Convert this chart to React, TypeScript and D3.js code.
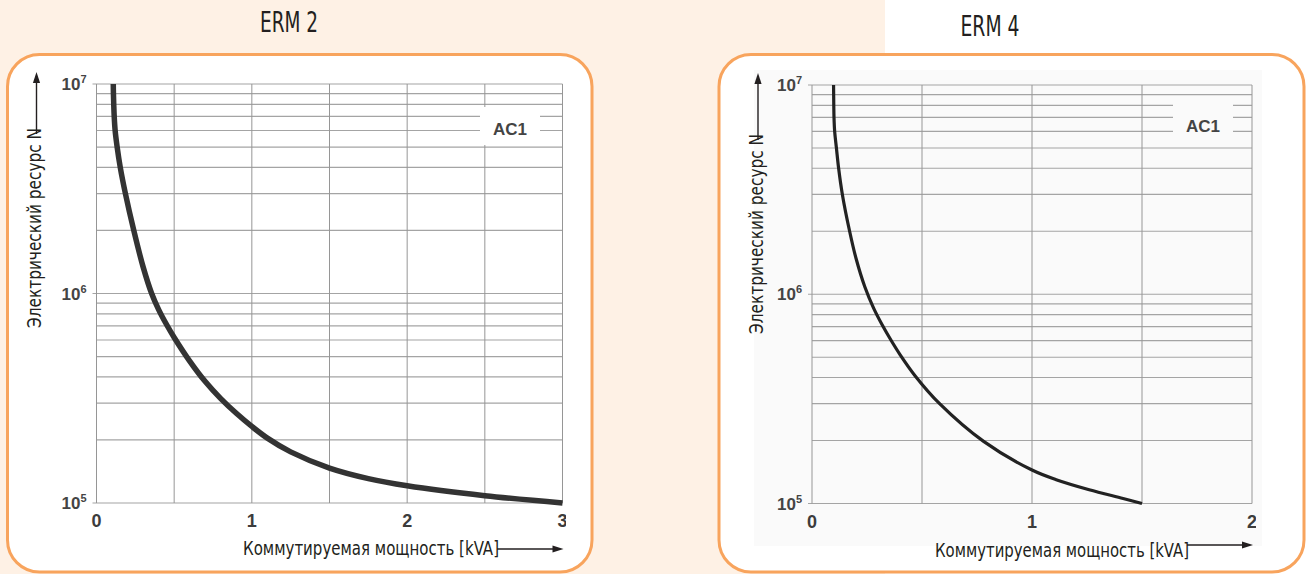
import React from 'react';
import * as d3 from 'd3';

// ---- data ----
const ERM2_POWER_KVA = [0.108, 0.109, 0.111, 0.114, 0.12, 0.133, 0.153, 0.186, 0.24, 0.3, 0.355, 0.4, 0.45, 0.5, 0.6, 0.7, 0.8, 0.9, 1.0, 1.1, 1.25, 1.5, 1.75, 2.0, 2.5, 3.0];
const ERM2_CYCLES = [1e7, 9e6, 8e6, 7e6, 6e6, 5e6, 4e6, 3e6, 2e6, 1.34e6, 1e6, 8.38e5, 7.13e5, 6.17e5, 4.76e5, 3.8e5, 3.15e5, 2.68e5, 2.32e5, 2.04e5, 1.754e5, 1.468e5, 1.308e5, 1.209e5, 1.084e5, 1.0e5];

const ERM4_POWER_KVA = [0.098, 0.099, 0.1, 0.103, 0.111, 0.121, 0.138, 0.171, 0.2, 0.24, 0.28, 0.32, 0.36, 0.4, 0.47, 0.58, 0.78, 1.0, 1.11, 1.26, 1.414, 1.5];
const ERM4_CYCLES = [1e7, 8e6, 7e6, 6e6, 5e6, 4e6, 3e6, 2e6, 1.486e6, 1.086e6, 8.59e5, 7.11e5, 6.01e5, 5.15e5, 4.06e5, 3.0e5, 1.98e5, 1.445e5, 1.3e5, 1.164e5, 1.057e5, 1e5];

const ERM2_X_TICKS = [0, 1, 2, 3];
const ERM4_X_TICKS = [0, 1, 2];
const Y_DECADES = [1e5, 1e6, 1e7];
const Y_EXPONENTS = ['5', '6', '7'];
const TITLES = ['ERM 2', 'ERM 4'];
const Y_LABEL = 'Электрический ресурс N';
const X_LABEL = 'Коммутируемая мощность [kVA]';
const CURVE_LABEL = 'AC1';

const NARROW = "'Liberation Sans Narrow', 'DejaVu Sans Condensed', 'Roboto Condensed', sans-serif";
const ARIAL = "'Liberation Sans', Arial, sans-serif";

type ChartProps = {
  id: string;
  power: number[];
  cycles: number[];
  xTicks: number[];
  xMax: number;
  px0: number; px1: number; pyBottom: number; pyTop: number;
  lineWidth: number;
  lineColor: string;
  bg: string;
  acX: number; acY: number;
  yLabelX: number; yLabelBottom: number;
  yArrowX: number;
  xLabelX: number; xLabelY: number; xLabelW: number;
  xArrowY: number;
  clipRight: number;
};

function Chart(p: ChartProps) {
  const x = d3.scaleLinear().domain([0, p.xMax]).range([p.px0, p.px1]);
  const y = d3.scaleLog().domain([1e5, 1e7]).range([p.pyBottom, p.pyTop]);
  const hTicks = y.ticks();
  const vTicks = x.ticks(p.xMax * 2);
  const pts: [number, number][] = p.power.map((v, i) => [x(v), y(p.cycles[i])]);
  const line = d3.line().curve(d3.curveCatmullRom.alpha(0.5))(pts) || '';
  const gridTop = y(1e7);
  const gridBot = y(1e5);
  const xTextEnd = p.xLabelX + p.xLabelW;
  const yLabelLen = 200;
  return (
    <g>
      <defs>
        <clipPath id={p.id + '-clip'}>
          <rect x={0} y={0} width={p.clipRight} height={574} />
        </clipPath>
      </defs>
      {/* horizontal grid */}
      {hTicks.map((t, i) => {
        const decade = Y_DECADES.some((d) => Math.abs(d - t) < 1);
        return (
          <line key={'h' + i} x1={p.px0 - (decade ? 4 : 0)} x2={p.px1} y1={y(t)} y2={y(t)}
            stroke="#a4a4a4" strokeWidth={1.2} />
        );
      })}
      {/* vertical grid */}
      {vTicks.map((t, i) => (
        <line key={'v' + i} x1={x(t)} x2={x(t)} y1={gridTop} y2={gridBot} stroke="#969696" strokeWidth={1} />
      ))}
      {/* AC1 label box */}
      <rect x={p.acX - 30} y={p.acY - 22} width={60} height={38} fill={p.bg} />
      <text x={p.acX} y={p.acY} textAnchor="middle" dy="0.35em" fontFamily={ARIAL} fontWeight="bold"
        fontSize={17} fill="#444">{CURVE_LABEL}</text>
      {/* curve */}
      <path d={line} fill="none" stroke={p.lineColor} strokeWidth={p.lineWidth} strokeLinejoin="round" />
      {/* y tick labels */}
      {Y_DECADES.map((d, i) => (
        <text key={'yl' + i} x={p.px0 - 10} y={y(d)} dy="0.36em" textAnchor="end" fontFamily={ARIAL}
          fontWeight="bold" fontSize={17} fill="#444">
          10<tspan dy="-7" fontSize={11}>{Y_EXPONENTS[i]}</tspan>
        </text>
      ))}
      {/* x tick labels */}
      <g clipPath={`url(#${p.id}-clip)`}>
        {p.xTicks.map((t, i) => (
          <text key={'xl' + i} x={x(t)} y={gridBot + 24} textAnchor="middle" fontFamily={ARIAL}
            fontWeight="bold" fontSize={18} fill="#3c3c3c">{t}</text>
        ))}
      </g>
      {/* y axis label + arrow */}
      <text transform={`translate(${p.yLabelX},${p.yLabelBottom}) rotate(-90)`} fontFamily={NARROW}
        fontSize={19} fill="#231f20" textLength={yLabelLen} lengthAdjust="spacingAndGlyphs">{Y_LABEL}</text>
      <line x1={p.yArrowX} x2={p.yArrowX} y1={p.yLabelBottom - yLabelLen + 6} y2={gridTop - 8} stroke="#231f20" strokeWidth={1.4} />
      <path d={`M${p.yArrowX},${gridTop - 12} l-3.6,11 l7.2,0 Z`} fill="#231f20" />
      {/* x axis label + arrow */}
      <text x={p.xLabelX} y={p.xLabelY} fontFamily={NARROW} fontSize={19} fill="#231f20"
        textLength={p.xLabelW} lengthAdjust="spacingAndGlyphs">{X_LABEL}</text>
      <line x1={xTextEnd - 2} x2={p.px1 - 4} y1={p.xArrowY} y2={p.xArrowY} stroke="#231f20" strokeWidth={1.4} />
      <path d={`M${p.px1 + 1},${p.xArrowY} l-11,-3.6 l0,7.2 Z`} fill="#231f20" />
    </g>
  );
}

export default function App() {
  const orange = '#f8a45d';
  const peach = '#fef1e5';
  return (
    <svg width={1310} height={574} viewBox="0 0 1310 574"
      style={{ position: 'absolute', left: 0, top: 0, display: 'block' }}>
      <rect x={0} y={0} width={1310} height={574} fill="#ffffff" />
      <rect x={0} y={0} width={885} height={574} fill={peach} />
      {/* titles */}
      <text x={289} y={32} textAnchor="middle" fontFamily={NARROW} fontSize={28} fill="#231f20"
        textLength={58} lengthAdjust="spacingAndGlyphs">{TITLES[0]}</text>
      <text x={990} y={36} textAnchor="middle" fontFamily={NARROW} fontSize={28} fill="#231f20"
        textLength={59} lengthAdjust="spacingAndGlyphs">{TITLES[1]}</text>
      {/* panels */}
      <rect x={7.5} y={54.5} width={584.5} height={517.5} rx={32} ry={32} fill="#ffffff" stroke={orange} strokeWidth={3} />
      <rect x={719} y={54.5} width={585} height={517.5} rx={32} ry={32} fill="#ffffff" stroke={orange} strokeWidth={3} />
      <rect x={754} y={70} width={508} height={476} fill="#fafafa" />
      <Chart id="erm2" power={ERM2_POWER_KVA} cycles={ERM2_CYCLES} xTicks={ERM2_X_TICKS} xMax={3}
        px0={96.5} px1={562.5} pyBottom={503} pyTop={84} lineWidth={5.5} lineColor="#333333" bg="#ffffff"
        acX={510} acY={129} yLabelX={41} yLabelBottom={328} yArrowX={36.5}
        xLabelX={243} xLabelY={555} xLabelW={256} xArrowY={549} clipRight={566} />
      <Chart id="erm4" power={ERM4_POWER_KVA} cycles={ERM4_CYCLES} xTicks={ERM4_X_TICKS} xMax={2}
        px0={812} px1={1252} pyBottom={503.5} pyTop={85} lineWidth={3.2} lineColor="#222222" bg="#fafafa"
        acX={1203} acY={126} yLabelX={763} yLabelBottom={334} yArrowX={758}
        xLabelX={935} xLabelY={557} xLabelW={254} xArrowY={545} clipRight={1256} />
    </svg>
  );
}
